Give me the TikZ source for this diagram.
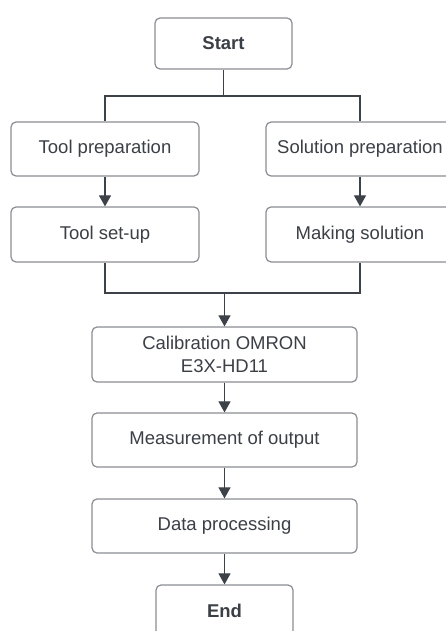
\documentclass[tikz,border=0pt]{standalone}
\usepackage{fontspec}
\setmainfont{Liberation Sans}
\usetikzlibrary{arrows.meta, positioning}
\definecolor{boxgray}{HTML}{8A8D93}
\definecolor{linegray}{HTML}{3D4148}
\definecolor{textgray}{HTML}{3B3F46}
\tikzset{
  stepnode/.style={draw=boxgray, line width=1.2pt, rounded corners=5pt, fill=white,
    text=textgray, inner sep=0pt, align=center, font=\fontsize{18.5}{23}\selectfont},
  endnode/.style={stepnode, minimum width=137pt, minimum height=51pt,
    font=\fontsize{18.5}{23}\selectfont\bfseries},
  sidenode/.style={stepnode, minimum width=188pt, minimum height=54pt},
  mainnode/.style={stepnode, minimum width=265pt, minimum height=54pt},
  flow/.style={draw=linegray, line width=1.1pt},
  flowarrow/.style={flow, -{Triangle[width=12pt,length=11pt]}},
}
\begin{document}
\begin{tikzpicture}[x=1pt,y=-1pt]
\useasboundingbox (0,0) rectangle (446,631);
\clip (0,0) rectangle (446,631);
% boxes
\node[endnode] (start) at (223.5,43.5) {Start};
\node[sidenode] (toolprep) at (105,149) {Tool preparation};
\node[sidenode] (solprep) at (360,149) {Solution preparation};
\node[sidenode, minimum height=55pt] (toolsetup) at (105,234.5) {Tool set-up};
\node[sidenode, minimum height=55pt] (makesol) at (360,234.5) {Making solution};
\node[mainnode, minimum height=55pt] (calib) at (224.5,354.5) {Calibration OMRON\\E3X-HD11};
\node[mainnode] (measure) at (224.5,440) {Measurement of output};
\node[mainnode] (data) at (224.5,526) {Data processing};
\node[endnode] (end) at (224.5,610.5) {End};
% split and merge
\coordinate (split) at (223.5,96);
\coordinate (merge) at (224.5,293);
\draw[flow] (start.south) -- (split);
\draw[flow] (toolprep.north) |- (split) -| (solprep.north);
\draw[flowarrow] (toolprep) -- (toolsetup);
\draw[flowarrow] (solprep) -- (makesol);
\draw[flow] (toolsetup.south) |- (merge) -| (makesol.south);
\draw[flowarrow] (merge) -- (calib);
\draw[flowarrow] (calib) -- (measure);
\draw[flowarrow] (measure) -- (data);
\draw[flowarrow] (data) -- (end);
\end{tikzpicture}
\end{document}
